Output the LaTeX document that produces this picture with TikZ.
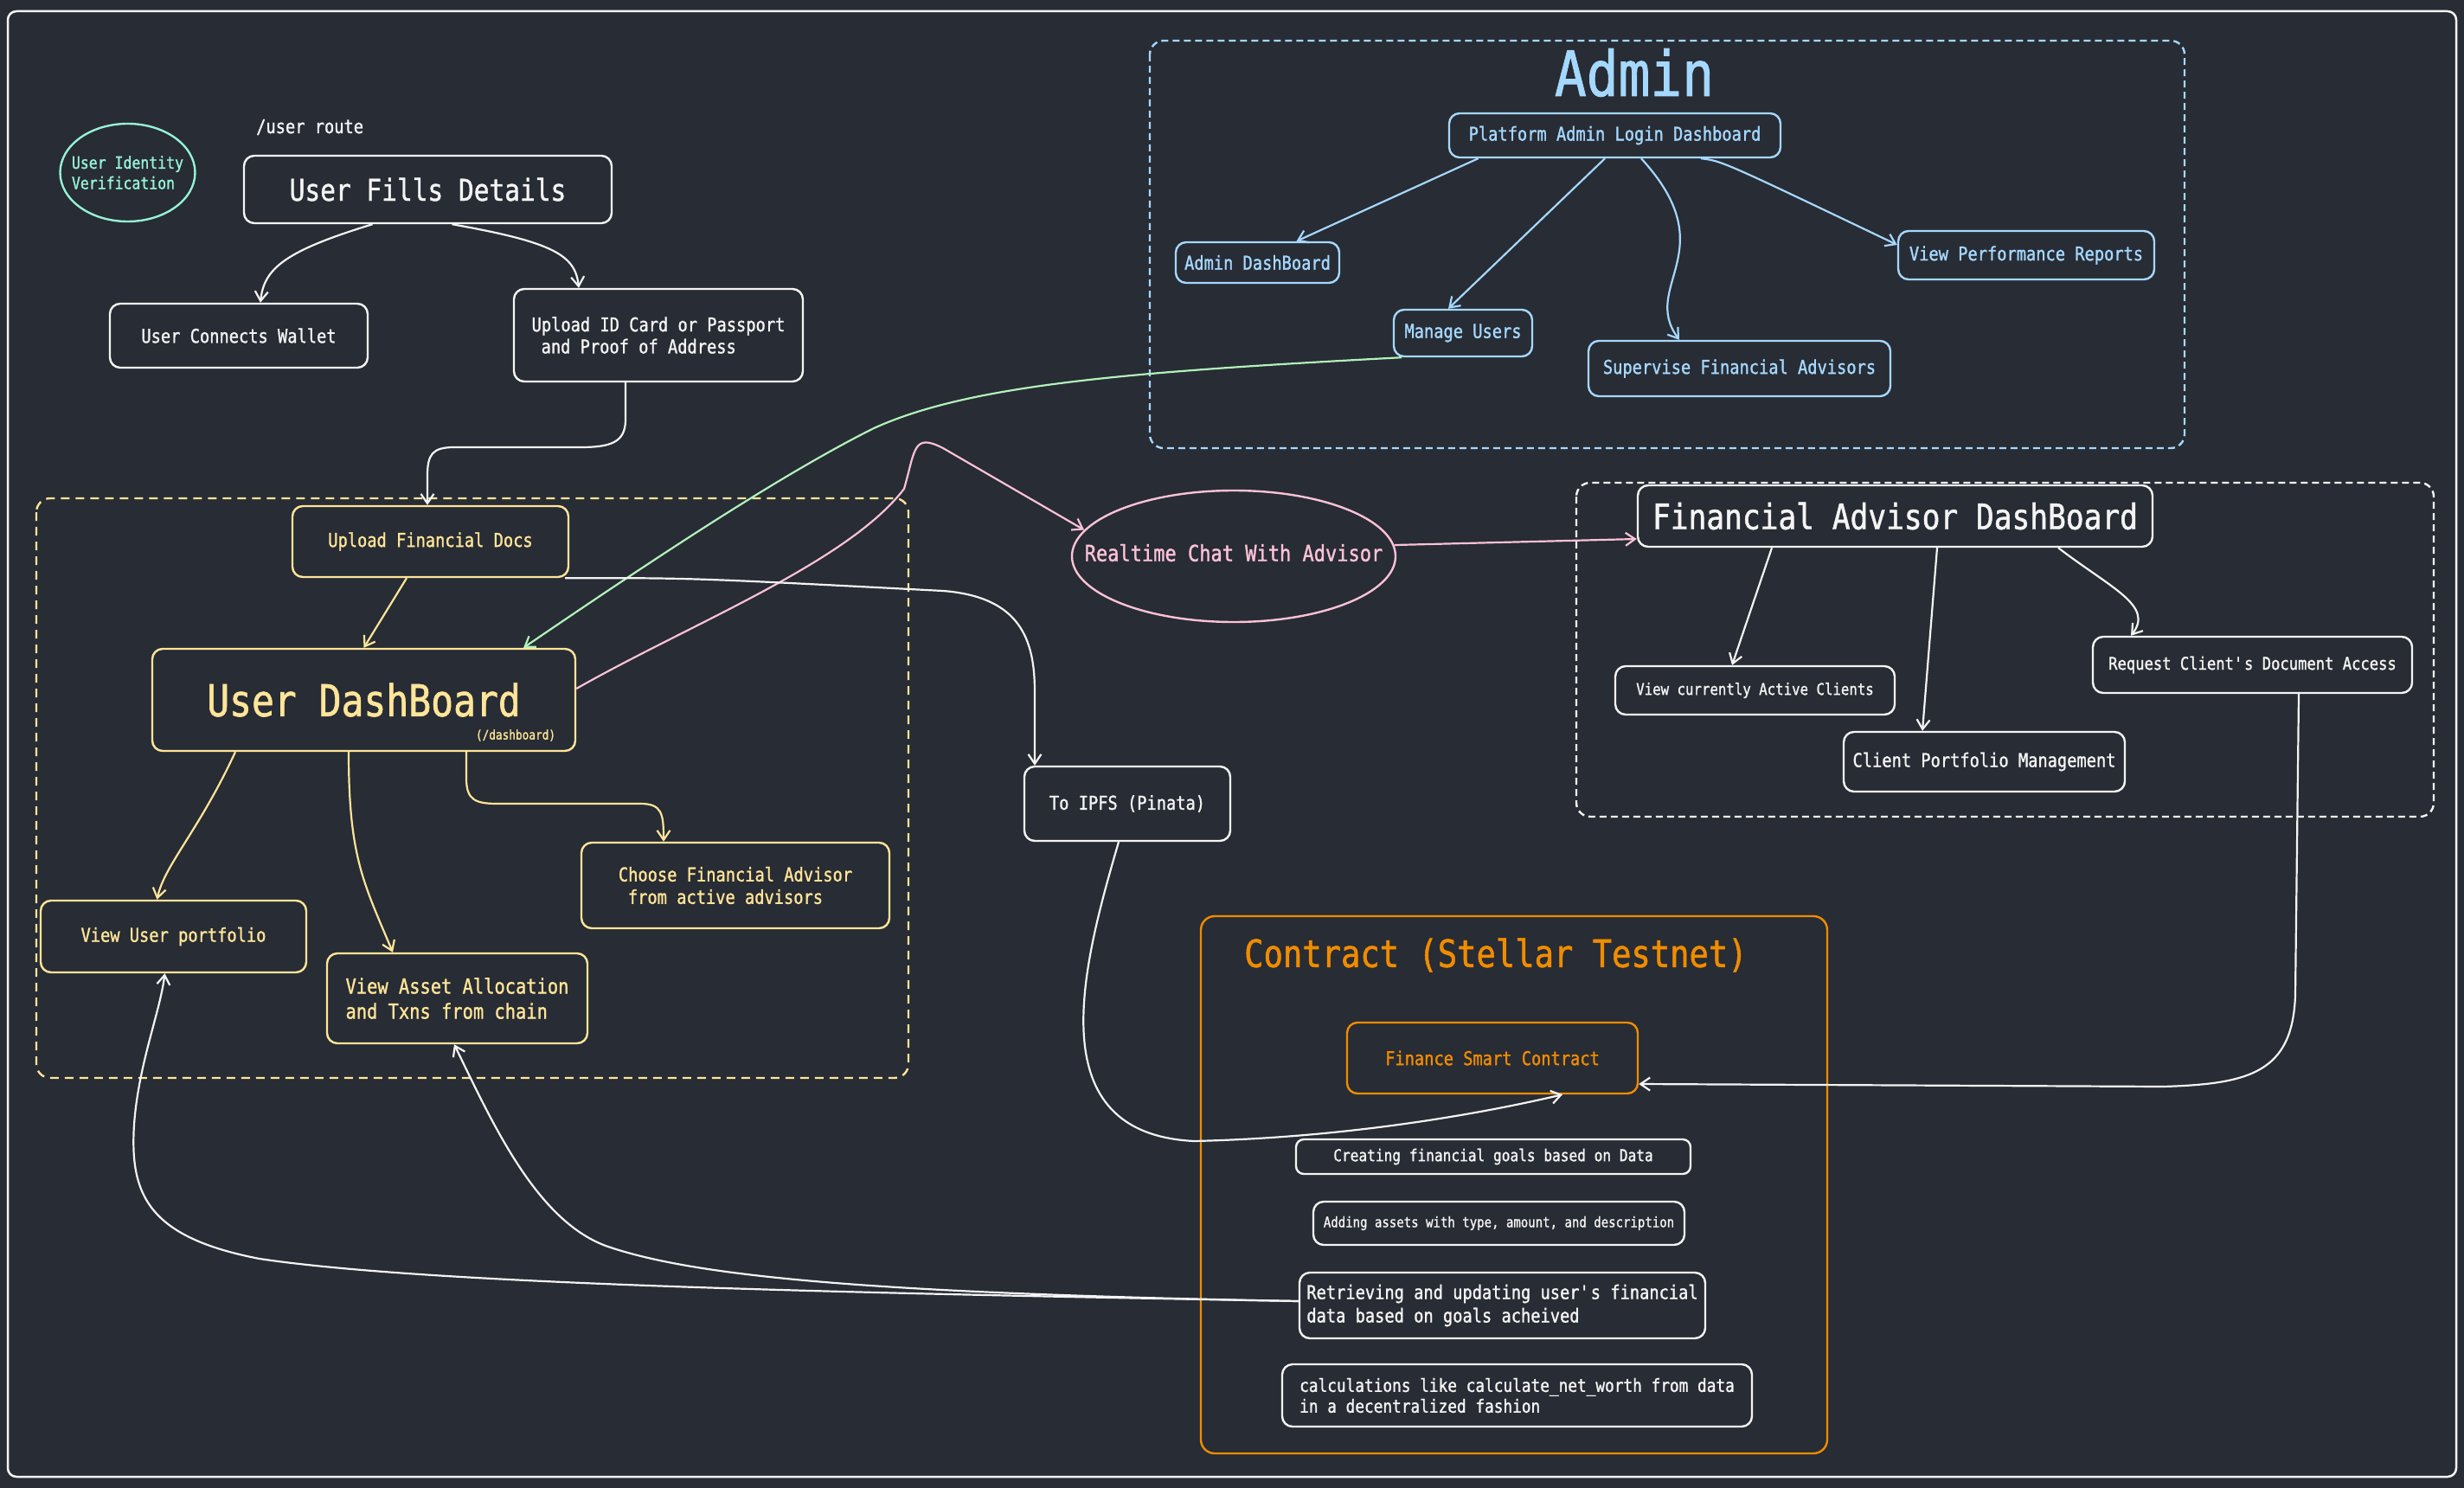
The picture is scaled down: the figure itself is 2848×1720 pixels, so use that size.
\documentclass[tikz,border=0pt]{standalone}
\usepackage{fontspec}
\setmainfont{DejaVu Sans Mono}[FakeStretch=0.85,FakeBold=1.2]
\usetikzlibrary{arrows.meta,shapes.geometric}
\definecolor{bg}{HTML}{282C34}
\definecolor{cyel}{HTML}{FFE599}
\definecolor{cblue}{HTML}{A5D8FF}
\definecolor{cmint}{HTML}{96F2D7}
\definecolor{cgreen}{HTML}{B2F2BB}
\definecolor{cpink}{HTML}{FCC2D7}
\definecolor{corange}{HTML}{F08C00}
\definecolor{cwhite}{HTML}{F4F4F4}
\newcommand\fz[2]{\fontsize{#1pt}{#2pt}\selectfont}
\tikzset{
  box/.style={draw, rounded corners=12pt, line width=2.4pt, inner sep=0pt, align=left},
  wbox/.style={box, draw=cwhite, text=cwhite},
  ybox/.style={box, draw=cyel, text=cyel},
  bbox/.style={box, draw=cblue, text=cblue},
  obox/.style={box, draw=corange, text=corange},
  conn/.style={line width=2.2pt, -{Straight Barb[length=11pt,width=15pt]}},
  wconn/.style={conn, draw=cwhite},
  yconn/.style={conn, draw=cyel},
  bconn/.style={conn, draw=cblue},
  pconn/.style={conn, draw=cpink},
  gconn/.style={conn, draw=cgreen},
  group/.style={line width=2.4pt, rounded corners=16pt},
}
\begin{document}
\begin{tikzpicture}[x=1pt,y=-1pt]
\useasboundingbox (0,0) rectangle (2848,1720);
\fill[bg] (0,0) rectangle (2848,1720);
\draw[cwhite, line width=2.5pt, rounded corners=10pt] (9,13) rectangle (2839,1707);

% containers
\draw[group, cyel, dash pattern=on 10pt off 7pt] (42,576) rectangle (1050,1246);
\draw[group, cblue, dash pattern=on 8pt off 5pt] (1329,47) rectangle (2525,518);
\draw[group, cwhite, dash pattern=on 8pt off 5pt] (1822,558) rectangle (2813,944);
\draw[group, corange] (1388,1059) rectangle (2112,1680);

% user identity
\node[ellipse, draw=cmint, line width=2.4pt, minimum width=156pt, minimum height=113pt, inner sep=0pt] (ident) at (147.5,199.5) {};
\node[text=cmint, align=left, font={\fz{19.4}{23.6}}] (identlbl) at (ident.center) {User Identity\\Verification};
\node[text=cwhite, anchor=west, font={\fz{22}{26}}, inner sep=0pt] (route) at (296,147) {/user route};

\node[wbox, minimum width=425pt, minimum height=78pt, font={\fz{34.7}{40}}] (fills) at (494.5,219) {User Fills Details};
\node[wbox, minimum width=298pt, minimum height=74pt, font={\fz{22}{26}}] (wallet) at (276,388) {User Connects Wallet};
\node[wbox, minimum width=334pt, minimum height=107pt, font={\fz{22}{25.4}}] (upid) at (761,387.5) {Upload ID Card or Passport\\\hspace*{0.5em}and Proof of Address};

% user dashboard group
\node[ybox, minimum width=319pt, minimum height=82pt, font={\fz{22}{26}}] (fd) at (497.5,626) {Upload Financial Docs};
\node[ybox, minimum width=489pt, minimum height=118pt, font={\fz{50.6}{56}}] (ud) at (420.5,809) {User DashBoard};
\node[text=cyel, font={\fz{15}{18}}, inner sep=0pt] (udsub) at (596,850) {(/dashboard)};
\node[ybox, minimum width=307pt, minimum height=83pt, font={\fz{22}{26}}] (vup) at (200.5,1082.5) {View User portfolio};
\node[ybox, minimum width=301pt, minimum height=104pt, font={\fz{24}{29}}] (vaa) at (528.5,1154) {View Asset Allocation\\and Txns from chain};
\node[ybox, minimum width=356pt, minimum height=99pt, font={\fz{22}{26}}] (cfa) at (850,1023.5) {Choose Financial Advisor\\\hspace*{0.5em}from active advisors};

% admin
\node[text=cblue, font={\fz{72}{80}}, inner sep=0pt] (admin) at (1889,84) {Admin};
\node[bbox, minimum width=383pt, minimum height=51pt, font={\fz{22}{26}}] (pald) at (1866.5,156.5) {Platform Admin Login Dashboard};
\node[bbox, minimum width=189pt, minimum height=47pt, font={\fz{22}{26}}] (adb) at (1453.5,303.5) {Admin DashBoard};
\node[bbox, minimum width=160pt, minimum height=54pt, font={\fz{22}{26}}] (mu) at (1691,385) {Manage Users};
\node[bbox, minimum width=349pt, minimum height=64pt, font={\fz{22}{26}}] (sfa) at (2010.5,426) {Supervise Financial Advisors};
\node[bbox, minimum width=296pt, minimum height=56pt, font={\fz{22}{26}}] (vperf) at (2342,295) {View Performance Reports};

% chat
\node[ellipse, draw=cpink, line width=2.4pt, minimum width=374pt, minimum height=152pt, inner sep=0pt] (chat) at (1426,643) {};
\node[text=cpink, font={\fz{25.9}{30}}] (chatlbl) at (1426,639) {Realtime Chat With Advisor};

% financial advisor
\node[wbox, minimum width=595pt, minimum height=71pt, font={\fz{40.6}{46}}] (fa) at (2190.5,596.5) {Financial Advisor DashBoard};
\node[wbox, minimum width=323pt, minimum height=56pt, font={\fz{18.5}{22}}] (vcac) at (2028.5,798) {View currently Active Clients};
\node[wbox, minimum width=325pt, minimum height=69pt, font={\fz{22}{26}}] (cpm) at (2293.5,880.5) {Client Portfolio Management};
\node[wbox, minimum width=369pt, minimum height=65pt, font={\fz{20.2}{24}}] (rcda) at (2603.5,768.5) {Request Client\textquotesingle s Document Access};

% ipfs
\node[wbox, minimum width=238pt, minimum height=86pt, font={\fz{22}{26}}] (ipfs) at (1303,929) {To IPFS (Pinata)};

% contract
\node[text=corange, anchor=west, font={\fz{43.7}{50}}, inner sep=0pt] (ctitle) at (1438,1104) {Contract (Stellar Testnet)};
\node[obox, minimum width=336pt, minimum height=82pt, font={\fz{22}{26}}] (fsc) at (1725,1223) {Finance Smart Contract};
\node[wbox, minimum width=456pt, minimum height=40pt, font={\fz{19}{23}}, rounded corners=9pt] (cg) at (1726,1337) {Creating financial goals based on Data};
\node[wbox, minimum width=429pt, minimum height=50pt, font={\fz{16.5}{20}}] (aa) at (1732.5,1414) {Adding assets with type, amount, and description};
\node[wbox, minimum width=469pt, minimum height=76pt, font={\fz{22}{27}}] (rt) at (1736.5,1509) {Retrieving and updating user\textquotesingle s financial\\data based on goals acheived};
\node[wbox, minimum width=543pt, minimum height=72pt, font={\fz{20.9}{24}}] (calc) at (1753.5,1613) {calculations like calculate\_net\_worth from data\\in a decentralized fashion};

% connectors: user flow
\draw[wconn] ([xshift=-64pt]fills.south) .. controls (330,290) and (305,310) .. ([xshift=25pt]wallet.north);
\draw[wconn] ([xshift=28pt]fills.south) .. controls (640,280) and (665,295) .. ([xshift=-92pt]upid.north);
\draw[wconn] ([xshift=-38pt]upid.south) -- (723,485) .. controls (723,512) and (705,517) .. (670,517) -- (525,517) .. controls (500,517) and (494,525) .. (494,550) -- ([xshift=-3.5pt]fd.north);

\draw[yconn] ([xshift=-27.5pt]fd.south) -- (ud.north);
\draw[yconn] ([xshift=-148.5pt]ud.south) .. controls (230,960) and (190,1000) .. ([xshift=-19pt]vup.north);
\draw[yconn] ([xshift=-17.5pt]ud.south) .. controls (403,990) and (420,1020) .. ([xshift=-74.5pt]vaa.north);
\draw[yconn] ([xshift=118.5pt]ud.south) -- (539,900) .. controls (539,925) and (550,929) .. (575,929) -- (740,929) .. controls (765,929) and (767,940) .. ([xshift=-83pt]cfa.north);

% admin connectors
\draw[bconn] ([xshift=-158pt]pald.south) -- ([xshift=45pt]adb.north);
\draw[bconn] ([xshift=-11.5pt]pald.south) -- ([xshift=-17pt]mu.north);
\draw[bconn] ([xshift=30.5pt]pald.south) .. controls (1995,290) and (1895,330) .. ([xshift=-69.5pt]sfa.north);
\draw[bconn] ([xshift=99.5pt]pald.south) .. controls (1990,186) .. ([yshift=12pt]vperf.west);

% green: manage users -> user dashboard
\draw[gconn] ([xshift=-71pt]mu.south) .. controls (1300,430) and (1120,445) .. (1010,495) .. controls (900,550) and (750,650) .. ([xshift=184.5pt]ud.north);

% pink: user dashboard -> chat -> FA
\draw[pconn] ([yshift=13pt]ud.east) .. controls (800,720) and (980,650) .. (1045,565) .. controls (1058,520) and (1055,500) .. (1090,518) -- (chat.170);
\draw[pconn] (chat.4) -- ([yshift=-26.5pt]fa.west);

% FA connectors
\draw[wconn] ([xshift=-142.5pt]fa.south) -- ([xshift=-26.5pt]vcac.north);
\draw[wconn] ([xshift=48.5pt]fa.south) -- ([xshift=-71.5pt]cpm.north);
\draw[wconn] ([xshift=188.5pt]fa.south) .. controls (2440,680) and (2490,700) .. ([xshift=-140.5pt]rcda.north);
\draw[wconn] ([xshift=53.5pt]rcda.south) -- (2653,1150) .. controls (2650,1240) and (2600,1253) .. (2500,1256) -- ([yshift=-30pt]fsc.east);

% IPFS
\draw[wconn] ([xshift=-5pt]fd.south east) .. controls (800,668) .. (1090,683) .. controls (1180,690) and (1196,740) .. (1196,800) -- ([xshift=-107pt]ipfs.north);
\draw[wconn] ([xshift=-10pt]ipfs.south) .. controls (1250,1120) and (1200,1310) .. (1380,1319) .. controls (1550,1315) and (1700,1290) .. ([xshift=81pt]fsc.south);

% contract -> user views
\draw[wconn] ([yshift=5pt]rt.west) .. controls (1000,1495) and (500,1485) .. (300,1455) .. controls (170,1430) and (150,1380) .. (155,1300) .. controls (160,1230) and (185,1170) .. ([xshift=-10pt]vup.south);
\draw[wconn] ([yshift=5pt]rt.west) .. controls (1000,1495) and (800,1475) .. (700,1440) .. controls (620,1410) and (570,1300) .. ([xshift=-3.5pt]vaa.south);
\end{tikzpicture}
\end{document}
